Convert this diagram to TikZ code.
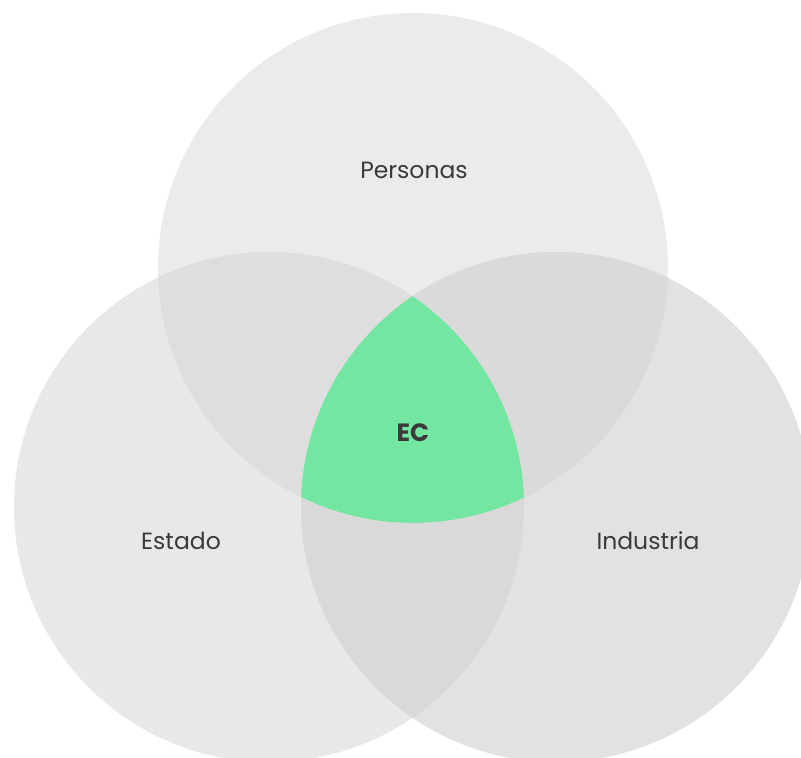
\documentclass[tikz,border=0pt]{standalone}
\usepackage{fontspec}
\setmainfont{Poppins}
\usetikzlibrary{positioning}

\definecolor{topgray}{HTML}{EBEBEB}
\definecolor{leftgray}{HTML}{E8E8E8}
\definecolor{rightgray}{HTML}{E2E2E2}
\definecolor{tlgray}{HTML}{DEDEDE}
\definecolor{trgray}{HTML}{DADADA}
\definecolor{lrgray}{HTML}{D9D9D9}
\definecolor{ecgreen}{HTML}{73E6A1}
\definecolor{labelgray}{HTML}{3A3A3A}

\begin{document}
\begin{tikzpicture}[x=1pt,y=-1pt,
  set node/.style={circle,inner sep=0pt,minimum size=510pt},
  set label/.style={font=\fontsize{23.5}{26}\selectfont,text=labelgray}]

  \useasboundingbox (0,0) rectangle (801,758);
  \clip (0,0) rectangle (801,758);

  % the three sets
  \node[set node,fill=topgray] (Personas) at (413,268) {};
  \node[set node,fill=leftgray] (Estado) at (269,507) {};
  \node[set node,fill=rightgray] (Industria) at (556,507) {};

  % overlaps
  \begin{scope}
    \clip (Personas.center) circle (255pt);
    \fill[tlgray] (Estado.center) circle (255pt);
    \fill[trgray] (Industria.center) circle (255pt);
    \clip (Estado.center) circle (255pt);
    \fill[ecgreen] (Industria.center) circle (255pt);
  \end{scope}
  \begin{scope}
    \clip (Estado.center) circle (255pt);
    \clip (Industria.center) circle (255pt);
    \fill[lrgray, even odd rule] (Personas.center) circle (255pt) (-10,-10) rectangle (820,780);
  \end{scope}

  % labels
  \node[set label] (PersonasText) at (414,170) {Personas};
  \node[set label] (EstadoText) at (181,541) {Estado};
  \node[set label] (IndustriaText) at (648,541) {Industria};
  \node[set label,font=\fontsize{25}{27}\selectfont\bfseries] (EC) at (413,433) {EC};
\end{tikzpicture}
\end{document}
